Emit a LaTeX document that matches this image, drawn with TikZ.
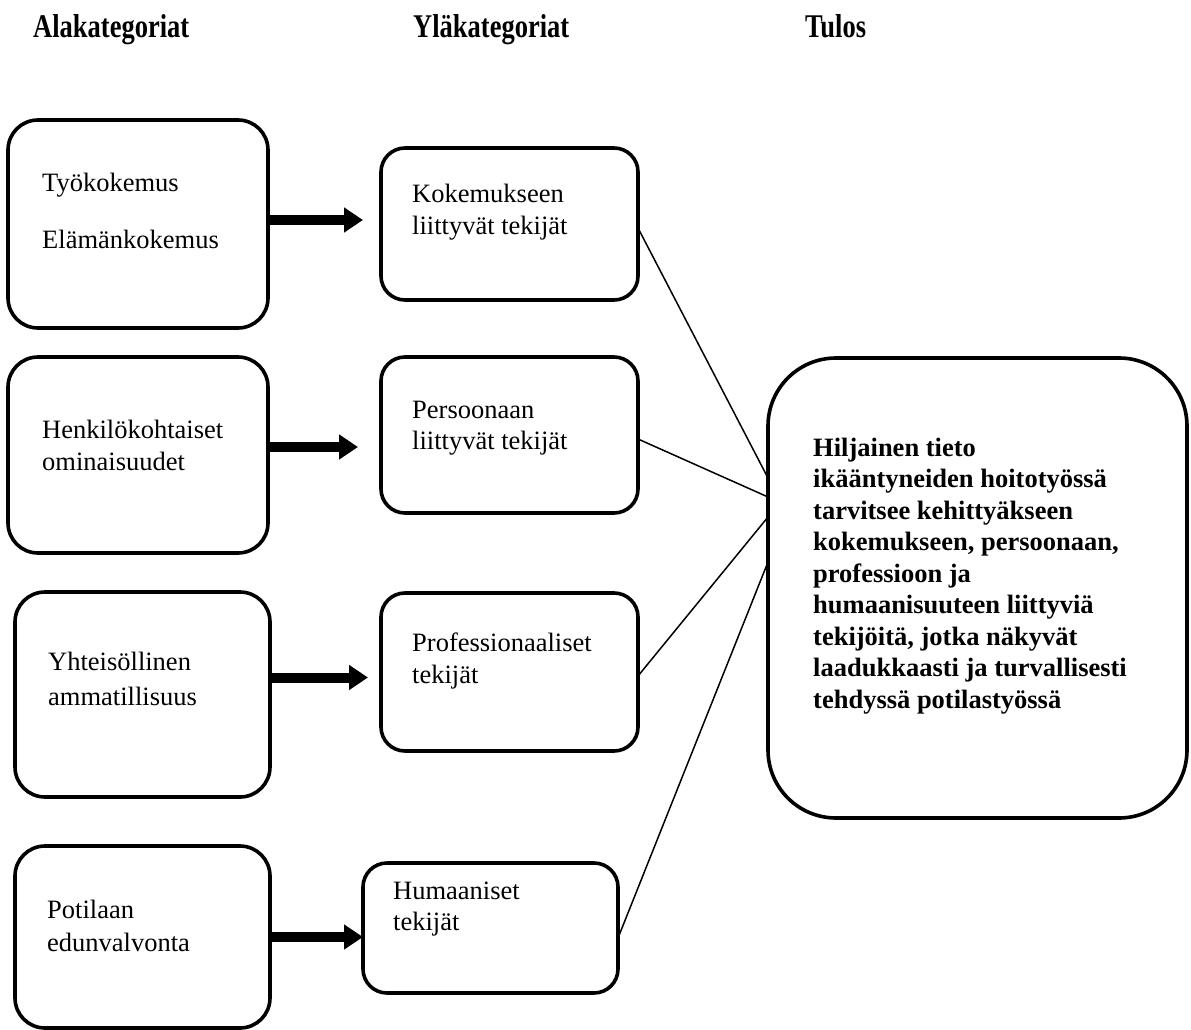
\documentclass[tikz,border=0pt]{standalone}
\usepackage{fontspec}
\setmainfont{Liberation Serif}
\usetikzlibrary{arrows.meta}
\begin{document}
\begin{tikzpicture}[x=1pt,y=-1pt,
  box/.style={draw, line width=3.6pt, rounded corners=30pt, inner sep=0pt, outer sep=0pt, anchor=north west},
  midbox/.style={box, rounded corners=24pt},
  bigbox/.style={box, rounded corners=68pt},
  txt/.style={anchor=base west, inner sep=0pt, font=\fontsize{26.5}{31.5}\selectfont},
  btxt/.style={txt, font=\fontsize{26.5}{31.5}\selectfont\bfseries},
  head/.style={anchor=base west, inner sep=0pt, font=\fontsize{26.5}{31.5}\selectfont\bfseries},
  bigarrow/.style={line width=10pt, -{Triangle[length=19pt,width=24pt]}},
  link/.style={line width=1.5pt}]
\useasboundingbox (0,0) rectangle (1191,1030);
% headings
\node[head] (h1) at (33,38) {\scalebox{1}[1.25]{Alakategoriat}};
\node[head] (h2) at (413,38) {\scalebox{1}[1.25]{Yläkategoriat}};
\node[head] (h3) at (805,38) {\scalebox{1}[1.25]{Tulos}};
% left boxes
\node[box, minimum width=260pt, minimum height=208pt] (A1) at (8,120) {};
\node[box, minimum width=260pt, minimum height=196pt] (A2) at (8,357) {};
\node[box, minimum width=255pt, minimum height=205pt] (A3) at (15,592) {};
\node[box, minimum width=255pt, minimum height=182pt] (A4) at (15,846) {};
% middle boxes
\node[midbox, minimum width=257pt, minimum height=152pt] (K) at (381,148) {};
\node[midbox, minimum width=257pt, minimum height=156pt] (P) at (381,357) {};
\node[midbox, minimum width=257pt, minimum height=158pt] (Pr) at (381,593) {};
\node[midbox, minimum width=255pt, minimum height=130pt] (H) at (363,863) {};
% big box
\node[bigbox, minimum width=419pt, minimum height=460pt] (T) at (768,358) {};
% texts left
\node[txt] (a1a) at (42,191) {Työkokemus};
\node[txt] (a1b) at (42,248) {Elämänkokemus};
\node[txt] (a2a) at (42,438) {Henkilökohtaiset};
\node[txt] (a2b) at (42,470) {ominaisuudet};
\node[txt] (a3a) at (48,670) {Yhteisöllinen};
\node[txt] (a3b) at (48,705) {ammatillisuus};
\node[txt] (a4a) at (47,918) {Potilaan};
\node[txt] (a4b) at (47,951) {edunvalvonta};
% texts middle
\node[txt] (k1) at (412,202) {Kokemukseen};
\node[txt] (k2) at (412,234) {liittyvät tekijät};
\node[txt] (p1) at (412,418) {Persoonaan};
\node[txt] (p2) at (412,449) {liittyvät tekijät};
\node[txt] (r1) at (412,651) {Professionaaliset};
\node[txt] (r2) at (412,683) {tekijät};
\node[txt] (u1) at (393,899) {Humaaniset};
\node[txt] (u2) at (393,930) {tekijät};
% big text
\node[btxt] (b1) at (813,456) {Hiljainen tieto};
\node[btxt] (b2) at (813,487.5) {ikääntyneiden hoitotyössä};
\node[btxt] (b3) at (813,519) {tarvitsee kehittyäkseen};
\node[btxt] (b4) at (813,550.5) {kokemukseen, persoonaan,};
\node[btxt] (b5) at (813,582) {professioon ja};
\node[btxt] (b6) at (813,613.5) {humaanisuuteen liittyviä};
\node[btxt] (b7) at (813,645) {tekijöitä, jotka näkyvät};
\node[btxt] (b8) at (813,676.5) {laadukkaasti ja turvallisesti};
\node[btxt] (b9) at (813,708) {tehdyssä potilastyössä};
% thick arrows
\draw[bigarrow, shorten >=18pt] ([yshift=4pt]A1.east) -- ([yshift=4pt]A1.east -| K.west);
\draw[bigarrow, shorten >=23pt] ([yshift=8pt]A2.east) -- ([yshift=8pt]A2.east -| P.west);
\draw[bigarrow, shorten >=13pt] ([yshift=17pt]A3.east) -- ([yshift=17pt]A3.east -| Pr.west);
\draw[bigarrow] (A4.east) -- (A4.east -| H.west);
% thin links
\draw[link] ([yshift=-4pt]K.east) -- ([yshift=110pt]T.west);
\draw[link] ([yshift=-4pt]P.east) -- ([yshift=91pt]T.west);
\draw[link] ([yshift=-4pt]Pr.east) -- ([yshift=71pt]T.west);
\draw[link] ([yshift=-10pt]H.east) -- ([yshift=26pt]T.west);
\end{tikzpicture}
\end{document}
